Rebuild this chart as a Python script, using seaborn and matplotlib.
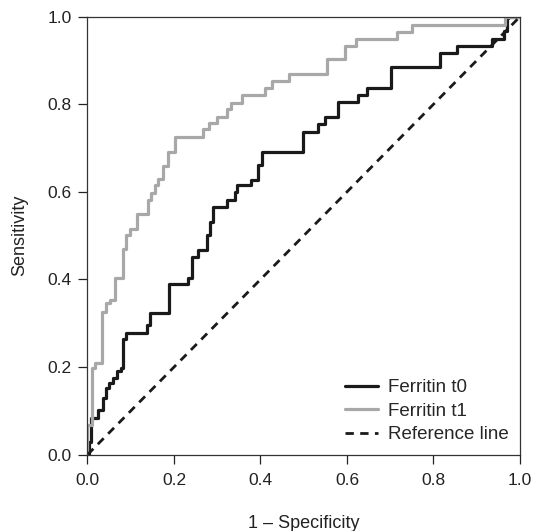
import numpy as np
import pandas as pd
import seaborn as sns
import matplotlib
matplotlib.use("Agg")
import matplotlib.pyplot as plt

# ROC step corners: at fpr[i] the curve rises to tpr[i]
t0_fpr = [0.0, 0.003, 0.008, 0.025, 0.035, 0.043, 0.05, 0.06, 0.069, 0.077, 0.081, 0.089,
          0.137, 0.145, 0.189, 0.233, 0.241, 0.256, 0.276, 0.283, 0.291, 0.322, 0.341,
          0.345, 0.377, 0.395, 0.403, 0.499, 0.534, 0.549, 0.58, 0.626, 0.646, 0.701,
          0.815, 0.855, 0.935, 0.963, 0.969, 0.973, 1.0]
t0_tpr = [0.0, 0.03, 0.083, 0.102, 0.129, 0.152, 0.163, 0.174, 0.191, 0.197, 0.263, 0.277,
          0.296, 0.323, 0.389, 0.404, 0.451, 0.467, 0.502, 0.532, 0.565, 0.581, 0.6,
          0.616, 0.627, 0.661, 0.692, 0.737, 0.755, 0.772, 0.806, 0.821, 0.838, 0.884,
          0.918, 0.933, 0.948, 0.968, 0.996, 1.0, 1.0]

t1_fpr = [0.0, 0.0, 0.0097, 0.017, 0.034, 0.043, 0.052, 0.064, 0.081, 0.089, 0.098, 0.114,
          0.141, 0.148, 0.156, 0.164, 0.174, 0.187, 0.202, 0.268, 0.282, 0.299, 0.322,
          0.331, 0.357, 0.41, 0.427, 0.467, 0.554, 0.595, 0.621, 0.716, 0.751, 0.965, 1.0]
t1_tpr = [0.0, 0.068, 0.198, 0.21, 0.326, 0.346, 0.353, 0.404, 0.47, 0.502, 0.516, 0.55,
          0.581, 0.598, 0.616, 0.629, 0.658, 0.692, 0.726, 0.743, 0.757, 0.772, 0.789,
          0.804, 0.821, 0.837, 0.854, 0.868, 0.903, 0.932, 0.948, 0.966, 0.981, 1.0, 1.0]

ref_x = [0.0, 1.0]
ref_y = [0.0, 1.0]

sns.set_theme(style="ticks")
plt.rcParams["font.family"] = ["Liberation Sans", "DejaVu Sans"]

fig = plt.figure(figsize=(5.39, 5.31), dpi=100)
ax = fig.add_axes([0.1623, 0.1437, 0.8024, 0.8249])

sns.lineplot(x=t0_fpr, y=t0_tpr, ax=ax, color="#1a1a1a", lw=2.3, drawstyle="steps-post",
             estimator=None, sort=False, label="Ferritin t0")
sns.lineplot(x=t1_fpr, y=t1_tpr, ax=ax, color="#a8a8a8", lw=2.3, drawstyle="steps-post",
             estimator=None, sort=False, label="Ferritin t1")
sns.lineplot(x=ref_x, y=ref_y, ax=ax, color="#1a1a1a", lw=2.0, linestyle=(0, (3.0, 2.3)),
             estimator=None, sort=False, label="Reference line")

ax.set_xlim(0, 1)
ax.set_ylim(0, 1)
ticks = [0.0, 0.2, 0.4, 0.6, 0.8, 1.0]
ax.set_xticks(ticks)
ax.set_yticks(ticks)
ax.set_xticklabels([f"{t:.1f}" for t in ticks])
ax.set_yticklabels([f"{t:.1f}" for t in ticks])
ax.tick_params(labelsize=12.5, length=6.5, width=0.9, colors="#222222")
ax.tick_params(axis="x", pad=7)
ax.tick_params(axis="y", pad=5)
for s in ax.spines.values():
    s.set_visible(True)
    s.set_color("#333333")
    s.set_linewidth(0.9)

ax.set_xlabel("1 \u2013 Specificity", fontsize=13, color="#222222", labelpad=19)
ax.set_ylabel("Sensitivity", fontsize=13, color="#222222", labelpad=14)

leg = ax.legend(loc="lower right", frameon=False, fontsize=13.5, handlelength=1.75,
                handletextpad=0.53, labelspacing=0.33, borderaxespad=0.22)

fig.savefig("out.png", dpi=100)
